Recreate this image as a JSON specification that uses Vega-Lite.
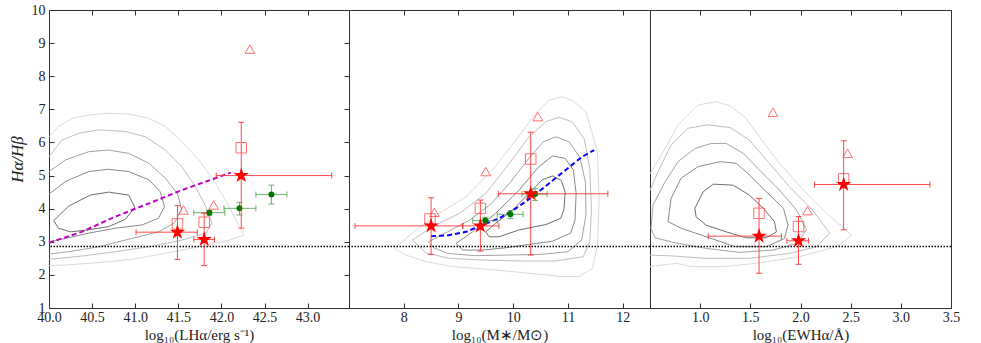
{
"$schema": "https://vega.github.io/schema/vega-lite/v6.json",
"padding": {"left": 7, "top": 2, "right": 5, "bottom": 0},
"spacing": 0,
"bounds": "flush",
"config": {
 "view": {"stroke": "#303030", "strokeWidth": 1},
 "axis": {"domain": false, "grid": false, "ticks": true, "tickSize": -5, "tickColor": "#303030", "tickWidth": 1, "labelFont": "Liberation Serif", "labelFontSize": 14, "labelColor": "#222222", "labelPadding": 7, "labelFlush": false, "labelOverlap": false, "titleFont": "Liberation Serif", "titleFontSize": 15, "titleFontWeight": "normal", "titleColor": "#222222"}
},
"datasets": {
 "contours": [
  {"p":1,"l":1,"i":0,"x":40.055,"y":3.64},{"p":1,"l":1,"i":1,"x":40.229,"y":4.08},{"p":1,"l":1,"i":2,"x":40.48,"y":4.41},{"p":1,"l":1,"i":3,"x":40.693,"y":4.5},{"p":1,"l":1,"i":4,"x":40.925,"y":4.41},{"p":1,"l":1,"i":5,"x":40.995,"y":4.04},{"p":1,"l":1,"i":6,"x":40.887,"y":3.68},{"p":1,"l":1,"i":7,"x":40.693,"y":3.46},{"p":1,"l":1,"i":8,"x":40.46,"y":3.36},{"p":1,"l":1,"i":9,"x":40.25,"y":3.3},{"p":1,"l":1,"i":10,"x":40.11,"y":3.41},{"p":1,"l":1,"i":11,"x":40.055,"y":3.64},
  {"p":1,"l":2,"i":0,"x":40,"y":4.44},{"p":1,"l":2,"i":1,"x":40.19,"y":4.82},{"p":1,"l":2,"i":2,"x":40.46,"y":5.12},{"p":1,"l":2,"i":3,"x":40.69,"y":5.19},{"p":1,"l":2,"i":4,"x":40.925,"y":5.12},{"p":1,"l":2,"i":5,"x":41.16,"y":4.87},{"p":1,"l":2,"i":6,"x":41.29,"y":4.51},{"p":1,"l":2,"i":7,"x":41.34,"y":4.06},{"p":1,"l":2,"i":8,"x":41.27,"y":3.71},{"p":1,"l":2,"i":9,"x":41.08,"y":3.51},{"p":1,"l":2,"i":10,"x":40.77,"y":3.41},{"p":1,"l":2,"i":11,"x":40.46,"y":3.26},{"p":1,"l":2,"i":12,"x":40.19,"y":3.1},{"p":1,"l":2,"i":13,"x":40,"y":3.0},
  {"p":1,"l":3,"i":0,"x":40,"y":5.12},{"p":1,"l":3,"i":1,"x":40.19,"y":5.47},{"p":1,"l":3,"i":2,"x":40.46,"y":5.72},{"p":1,"l":3,"i":3,"x":40.69,"y":5.77},{"p":1,"l":3,"i":4,"x":40.925,"y":5.67},{"p":1,"l":3,"i":5,"x":41.16,"y":5.37},{"p":1,"l":3,"i":6,"x":41.35,"y":4.92},{"p":1,"l":3,"i":7,"x":41.49,"y":4.46},{"p":1,"l":3,"i":8,"x":41.54,"y":3.96},{"p":1,"l":3,"i":9,"x":41.45,"y":3.56},{"p":1,"l":3,"i":10,"x":41.27,"y":3.3},{"p":1,"l":3,"i":11,"x":40.96,"y":3.1},{"p":1,"l":3,"i":12,"x":40.58,"y":2.85},{"p":1,"l":3,"i":13,"x":40.23,"y":2.7},{"p":1,"l":3,"i":14,"x":40,"y":2.63},
  {"p":1,"l":4,"i":0,"x":40,"y":5.57},{"p":1,"l":4,"i":1,"x":40.15,"y":6.07},{"p":1,"l":4,"i":2,"x":40.35,"y":6.28},{"p":1,"l":4,"i":3,"x":40.58,"y":6.38},{"p":1,"l":4,"i":4,"x":40.89,"y":6.33},{"p":1,"l":4,"i":5,"x":41.12,"y":6.17},{"p":1,"l":4,"i":6,"x":41.35,"y":5.77},{"p":1,"l":4,"i":7,"x":41.54,"y":5.27},{"p":1,"l":4,"i":8,"x":41.7,"y":4.66},{"p":1,"l":4,"i":9,"x":41.82,"y":4.06},{"p":1,"l":4,"i":10,"x":41.89,"y":3.56},{"p":1,"l":4,"i":11,"x":41.82,"y":3.26},{"p":1,"l":4,"i":12,"x":41.54,"y":3.05},{"p":1,"l":4,"i":13,"x":41.16,"y":2.85},{"p":1,"l":4,"i":14,"x":40.77,"y":2.7},{"p":1,"l":4,"i":15,"x":40.38,"y":2.57},{"p":1,"l":4,"i":16,"x":40,"y":2.47},
  {"p":1,"l":5,"i":0,"x":40,"y":6.17},{"p":1,"l":5,"i":1,"x":40.11,"y":6.48},{"p":1,"l":5,"i":2,"x":40.27,"y":6.73},{"p":1,"l":5,"i":3,"x":40.46,"y":6.83},{"p":1,"l":5,"i":4,"x":40.69,"y":6.88},{"p":1,"l":5,"i":5,"x":40.925,"y":6.86},{"p":1,"l":5,"i":6,"x":41.16,"y":6.73},{"p":1,"l":5,"i":7,"x":41.35,"y":6.48},{"p":1,"l":5,"i":8,"x":41.54,"y":6.02},{"p":1,"l":5,"i":9,"x":41.74,"y":5.47},{"p":1,"l":5,"i":10,"x":41.93,"y":4.77},{"p":1,"l":5,"i":11,"x":42.09,"y":4.06},{"p":1,"l":5,"i":12,"x":42.26,"y":3.2},{"p":1,"l":5,"i":13,"x":42.09,"y":3.05},{"p":1,"l":5,"i":14,"x":41.74,"y":2.85},{"p":1,"l":5,"i":15,"x":41.35,"y":2.65},{"p":1,"l":5,"i":16,"x":40.96,"y":2.47},{"p":1,"l":5,"i":17,"x":40.58,"y":2.37},{"p":1,"l":5,"i":18,"x":40.19,"y":2.3},{"p":1,"l":5,"i":19,"x":40,"y":2.28},

  {"p":2,"l":1,"i":0,"x":9.5,"y":3.3},{"p":2,"l":1,"i":1,"x":9.68,"y":3.56},{"p":2,"l":1,"i":2,"x":9.99,"y":3.96},{"p":2,"l":1,"i":3,"x":10.29,"y":4.46},{"p":2,"l":1,"i":4,"x":10.53,"y":4.87},{"p":2,"l":1,"i":5,"x":10.72,"y":4.99},{"p":2,"l":1,"i":6,"x":10.88,"y":4.85},{"p":2,"l":1,"i":7,"x":10.95,"y":4.5},{"p":2,"l":1,"i":8,"x":10.93,"y":4.0},{"p":2,"l":1,"i":9,"x":10.87,"y":3.71},{"p":2,"l":1,"i":10,"x":10.6,"y":3.52},{"p":2,"l":1,"i":11,"x":10.11,"y":3.36},{"p":2,"l":1,"i":12,"x":9.74,"y":3.15},{"p":2,"l":1,"i":13,"x":9.56,"y":3.15},{"p":2,"l":1,"i":14,"x":9.5,"y":3.3},
  {"p":2,"l":2,"i":0,"x":8.955,"y":2.95},{"p":2,"l":2,"i":1,"x":9.26,"y":3.3},{"p":2,"l":2,"i":2,"x":9.68,"y":3.86},{"p":2,"l":2,"i":3,"x":10.11,"y":4.56},{"p":2,"l":2,"i":4,"x":10.47,"y":5.27},{"p":2,"l":2,"i":5,"x":10.72,"y":5.59},{"p":2,"l":2,"i":6,"x":10.95,"y":5.52},{"p":2,"l":2,"i":7,"x":11.1,"y":5.17},{"p":2,"l":2,"i":8,"x":11.15,"y":4.46},{"p":2,"l":2,"i":9,"x":11.13,"y":3.66},{"p":2,"l":2,"i":10,"x":11.05,"y":3.26},{"p":2,"l":2,"i":11,"x":10.72,"y":3.02},{"p":2,"l":2,"i":12,"x":10.29,"y":2.92},{"p":2,"l":2,"i":13,"x":9.87,"y":2.82},{"p":2,"l":2,"i":14,"x":9.44,"y":2.75},{"p":2,"l":2,"i":15,"x":9.08,"y":2.75},{"p":2,"l":2,"i":16,"x":8.955,"y":2.95},
  {"p":2,"l":3,"i":0,"x":8.45,"y":3.0},{"p":2,"l":3,"i":1,"x":8.8,"y":3.3},{"p":2,"l":3,"i":2,"x":9.2,"y":3.65},{"p":2,"l":3,"i":3,"x":9.6,"y":4.15},{"p":2,"l":3,"i":4,"x":9.95,"y":4.8},{"p":2,"l":3,"i":5,"x":10.3,"y":5.55},{"p":2,"l":3,"i":6,"x":10.55,"y":6.02},{"p":2,"l":3,"i":7,"x":10.78,"y":6.17},{"p":2,"l":3,"i":8,"x":11.02,"y":6.02},{"p":2,"l":3,"i":9,"x":11.22,"y":5.55},{"p":2,"l":3,"i":10,"x":11.32,"y":4.8},{"p":2,"l":3,"i":11,"x":11.33,"y":3.8},{"p":2,"l":3,"i":12,"x":11.25,"y":3.05},{"p":2,"l":3,"i":13,"x":11.0,"y":2.7},{"p":2,"l":3,"i":14,"x":10.5,"y":2.62},{"p":2,"l":3,"i":15,"x":9.9,"y":2.6},{"p":2,"l":3,"i":16,"x":9.3,"y":2.58},{"p":2,"l":3,"i":17,"x":8.8,"y":2.65},{"p":2,"l":3,"i":18,"x":8.55,"y":2.82},{"p":2,"l":3,"i":19,"x":8.45,"y":3.0},
  {"p":2,"l":4,"i":0,"x":8.16,"y":3.05},{"p":2,"l":4,"i":1,"x":8.53,"y":3.46},{"p":2,"l":4,"i":2,"x":9.02,"y":3.86},{"p":2,"l":4,"i":3,"x":9.5,"y":4.46},{"p":2,"l":4,"i":4,"x":9.93,"y":5.37},{"p":2,"l":4,"i":5,"x":10.29,"y":6.17},{"p":2,"l":4,"i":6,"x":10.6,"y":6.63},{"p":2,"l":4,"i":7,"x":10.84,"y":6.76},{"p":2,"l":4,"i":8,"x":11.08,"y":6.62},{"p":2,"l":4,"i":9,"x":11.3,"y":6.1},{"p":2,"l":4,"i":10,"x":11.4,"y":5.2},{"p":2,"l":4,"i":11,"x":11.43,"y":4.0},{"p":2,"l":4,"i":12,"x":11.4,"y":3.0},{"p":2,"l":4,"i":13,"x":11.28,"y":2.55},{"p":2,"l":4,"i":14,"x":10.78,"y":2.42},{"p":2,"l":4,"i":15,"x":10.11,"y":2.42},{"p":2,"l":4,"i":16,"x":9.44,"y":2.45},{"p":2,"l":4,"i":17,"x":8.83,"y":2.5},{"p":2,"l":4,"i":18,"x":8.41,"y":2.66},{"p":2,"l":4,"i":19,"x":8.16,"y":3.05},
  {"p":2,"l":5,"i":0,"x":7.83,"y":2.8},{"p":2,"l":5,"i":1,"x":8.23,"y":3.36},{"p":2,"l":5,"i":2,"x":8.65,"y":3.86},{"p":2,"l":5,"i":3,"x":9.14,"y":4.36},{"p":2,"l":5,"i":4,"x":9.62,"y":5.17},{"p":2,"l":5,"i":5,"x":10.05,"y":6.07},{"p":2,"l":5,"i":6,"x":10.41,"y":6.88},{"p":2,"l":5,"i":7,"x":10.66,"y":7.28},{"p":2,"l":5,"i":8,"x":10.9,"y":7.38},{"p":2,"l":5,"i":9,"x":11.1,"y":7.25},{"p":2,"l":5,"i":10,"x":11.33,"y":6.93},{"p":2,"l":5,"i":11,"x":11.54,"y":5.72},{"p":2,"l":5,"i":12,"x":11.57,"y":4.21},{"p":2,"l":5,"i":13,"x":11.54,"y":2.9},{"p":2,"l":5,"i":14,"x":11.45,"y":2.2},{"p":2,"l":5,"i":15,"x":11.2,"y":1.95},{"p":2,"l":5,"i":16,"x":10.9,"y":1.95},{"p":2,"l":5,"i":17,"x":10.11,"y":2.08},{"p":2,"l":5,"i":18,"x":9.44,"y":2.18},{"p":2,"l":5,"i":19,"x":8.89,"y":2.25},{"p":2,"l":5,"i":20,"x":8.41,"y":2.4},{"p":2,"l":5,"i":21,"x":8.04,"y":2.6},{"p":2,"l":5,"i":22,"x":7.83,"y":2.8},

  {"p":3,"l":1,"i":0,"x":0.947,"y":4.01},{"p":3,"l":1,"i":1,"x":1.03,"y":4.51},{"p":3,"l":1,"i":2,"x":1.13,"y":4.74},{"p":3,"l":1,"i":3,"x":1.33,"y":4.71},{"p":3,"l":1,"i":4,"x":1.49,"y":4.41},{"p":3,"l":1,"i":5,"x":1.63,"y":4.01},{"p":3,"l":1,"i":6,"x":1.74,"y":3.61},{"p":3,"l":1,"i":7,"x":1.76,"y":3.3},{"p":3,"l":1,"i":8,"x":1.66,"y":3.12},{"p":3,"l":1,"i":9,"x":1.46,"y":3.12},{"p":3,"l":1,"i":10,"x":1.26,"y":3.3},{"p":3,"l":1,"i":11,"x":1.06,"y":3.5},{"p":3,"l":1,"i":12,"x":0.96,"y":3.75},{"p":3,"l":1,"i":13,"x":0.947,"y":4.01},
  {"p":3,"l":2,"i":0,"x":0.68,"y":3.61},{"p":3,"l":2,"i":1,"x":0.71,"y":4.31},{"p":3,"l":2,"i":2,"x":0.81,"y":4.92},{"p":3,"l":2,"i":3,"x":0.98,"y":5.27},{"p":3,"l":2,"i":4,"x":1.2,"y":5.42},{"p":3,"l":2,"i":5,"x":1.36,"y":5.37},{"p":3,"l":2,"i":6,"x":1.49,"y":5.02},{"p":3,"l":2,"i":7,"x":1.66,"y":4.51},{"p":3,"l":2,"i":8,"x":1.83,"y":4.01},{"p":3,"l":2,"i":9,"x":1.875,"y":3.51},{"p":3,"l":2,"i":10,"x":1.84,"y":3.1},{"p":3,"l":2,"i":11,"x":1.66,"y":2.85},{"p":3,"l":2,"i":12,"x":1.35,"y":2.85},{"p":3,"l":2,"i":13,"x":1.11,"y":3.1},{"p":3,"l":2,"i":14,"x":0.81,"y":3.41},{"p":3,"l":2,"i":15,"x":0.68,"y":3.61},
  {"p":3,"l":3,"i":0,"x":0.51,"y":3.4},{"p":3,"l":3,"i":1,"x":0.53,"y":4.11},{"p":3,"l":3,"i":2,"x":0.65,"y":4.81},{"p":3,"l":3,"i":3,"x":0.78,"y":5.42},{"p":3,"l":3,"i":4,"x":0.95,"y":5.82},{"p":3,"l":3,"i":5,"x":1.11,"y":5.97},{"p":3,"l":3,"i":6,"x":1.26,"y":5.97},{"p":3,"l":3,"i":7,"x":1.43,"y":5.67},{"p":3,"l":3,"i":8,"x":1.59,"y":5.17},{"p":3,"l":3,"i":9,"x":1.79,"y":4.56},{"p":3,"l":3,"i":10,"x":1.96,"y":3.96},{"p":3,"l":3,"i":11,"x":2.06,"y":3.36},{"p":3,"l":3,"i":12,"x":1.96,"y":2.95},{"p":3,"l":3,"i":13,"x":1.73,"y":2.75},{"p":3,"l":3,"i":14,"x":1.39,"y":2.68},{"p":3,"l":3,"i":15,"x":1.06,"y":2.8},{"p":3,"l":3,"i":16,"x":0.75,"y":2.97},{"p":3,"l":3,"i":17,"x":0.55,"y":3.12},{"p":3,"l":3,"i":18,"x":0.51,"y":3.4},
  {"p":3,"l":4,"i":0,"x":0.5,"y":4.55},{"p":3,"l":4,"i":1,"x":0.58,"y":5.12},{"p":3,"l":4,"i":2,"x":0.71,"y":5.92},{"p":3,"l":4,"i":3,"x":0.88,"y":6.43},{"p":3,"l":4,"i":4,"x":1.08,"y":6.53},{"p":3,"l":4,"i":5,"x":1.3,"y":6.45},{"p":3,"l":4,"i":6,"x":1.49,"y":6.07},{"p":3,"l":4,"i":7,"x":1.69,"y":5.37},{"p":3,"l":4,"i":8,"x":1.89,"y":4.66},{"p":3,"l":4,"i":9,"x":2.12,"y":3.96},{"p":3,"l":4,"i":10,"x":2.29,"y":3.26},{"p":3,"l":4,"i":11,"x":2.16,"y":2.85},{"p":3,"l":4,"i":12,"x":1.89,"y":2.65},{"p":3,"l":4,"i":13,"x":1.49,"y":2.5},{"p":3,"l":4,"i":14,"x":1.06,"y":2.5},{"p":3,"l":4,"i":15,"x":0.73,"y":2.57},{"p":3,"l":4,"i":16,"x":0.5,"y":2.6},
  {"p":3,"l":5,"i":0,"x":0.5,"y":5.05},{"p":3,"l":5,"i":1,"x":0.65,"y":5.82},{"p":3,"l":5,"i":2,"x":0.78,"y":6.53},{"p":3,"l":5,"i":3,"x":0.98,"y":7.13},{"p":3,"l":5,"i":4,"x":1.16,"y":7.23},{"p":3,"l":5,"i":5,"x":1.3,"y":7.1},{"p":3,"l":5,"i":6,"x":1.45,"y":6.75},{"p":3,"l":5,"i":7,"x":1.59,"y":6.17},{"p":3,"l":5,"i":8,"x":1.79,"y":5.37},{"p":3,"l":5,"i":9,"x":2.03,"y":4.56},{"p":3,"l":5,"i":10,"x":2.26,"y":3.86},{"p":3,"l":5,"i":11,"x":2.51,"y":3.2},{"p":3,"l":5,"i":12,"x":2.36,"y":2.85},{"p":3,"l":5,"i":13,"x":1.99,"y":2.55},{"p":3,"l":5,"i":14,"x":1.56,"y":2.35},{"p":3,"l":5,"i":15,"x":1.23,"y":2.25},{"p":3,"l":5,"i":16,"x":0.9,"y":2.25},{"p":3,"l":5,"i":17,"x":0.77,"y":2.35},{"p":3,"l":5,"i":18,"x":0.63,"y":2.3},{"p":3,"l":5,"i":19,"x":0.5,"y":2.25}
 ],
 "stars": [
  {"p":1,"x":41.49,"y":3.29,"xlo":41.01,"xhi":41.72,"ylo":2.47,"yhi":4.09},
  {"p":1,"x":41.8,"y":3.07,"xlo":41.68,"xhi":41.92,"ylo":2.28,"yhi":3.86},
  {"p":1,"x":42.23,"y":5.0,"xlo":41.94,"xhi":43.28,"ylo":3.41,"yhi":6.61},
  {"p":2,"x":8.5,"y":3.48,"xlo":7.11,"xhi":9.08,"ylo":2.62,"yhi":4.33},
  {"p":2,"x":9.4,"y":3.48,"xlo":9.08,"xhi":9.74,"ylo":2.72,"yhi":4.26},
  {"p":2,"x":10.32,"y":4.45,"xlo":9.73,"xhi":11.73,"ylo":2.6,"yhi":6.31},
  {"p":3,"x":1.587,"y":3.17,"xlo":1.08,"xhi":1.81,"ylo":2.05,"yhi":4.31},
  {"p":3,"x":1.98,"y":3.03,"xlo":1.865,"xhi":2.08,"ylo":2.32,"yhi":3.76},
  {"p":3,"x":2.43,"y":4.73,"xlo":2.14,"xhi":3.29,"ylo":3.36,"yhi":6.05}
 ],
 "squares": [
  {"p":1,"x":41.49,"y":3.54},{"p":1,"x":41.8,"y":3.59},{"p":1,"x":42.23,"y":5.84},
  {"p":2,"x":8.48,"y":3.69},{"p":2,"x":9.4,"y":4.01},{"p":2,"x":10.32,"y":5.5},
  {"p":3,"x":1.587,"y":3.86},{"p":3,"x":1.98,"y":3.46},{"p":3,"x":2.43,"y":4.9}
 ],
 "triangles": [
  {"p":1,"x":41.56,"y":3.96},{"p":1,"x":41.91,"y":4.11},{"p":1,"x":42.33,"y":8.82},
  {"p":2,"x":8.56,"y":3.89},{"p":2,"x":9.5,"y":5.12},{"p":2,"x":10.45,"y":6.78},
  {"p":3,"x":1.726,"y":6.91},{"p":3,"x":2.07,"y":3.94},{"p":3,"x":2.47,"y":5.67}
 ],
 "green": [
  {"p":1,"x":41.86,"y":3.88,"xlo":41.68,"xhi":42.04,"ylo":3.8,"yhi":3.95},
  {"p":1,"x":42.21,"y":4.01,"xlo":42.03,"xhi":42.4,"ylo":3.81,"yhi":4.19},
  {"p":1,"x":42.58,"y":4.43,"xlo":42.4,"xhi":42.76,"ylo":4.14,"yhi":4.71},
  {"p":2,"x":9.49,"y":3.64,"xlo":9.26,"xhi":9.71,"ylo":3.55,"yhi":3.74},
  {"p":2,"x":9.95,"y":3.83,"xlo":9.71,"xhi":10.18,"ylo":3.7,"yhi":3.94},
  {"p":2,"x":10.4,"y":4.44,"xlo":10.16,"xhi":10.62,"ylo":4.25,"yhi":4.6}
 ],
 "fits": [
  {"p":1,"i":0,"x":40.0,"y":2.97},{"p":1,"i":1,"x":40.38,"y":3.3},{"p":1,"i":2,"x":40.77,"y":3.76},{"p":1,"i":3,"x":41.16,"y":4.16},{"p":1,"i":4,"x":41.54,"y":4.56},{"p":1,"i":5,"x":41.93,"y":4.92},{"p":1,"i":6,"x":42.11,"y":5.09},
  {"p":2,"i":0,"x":8.5,"y":3.17},{"p":2,"i":1,"x":8.83,"y":3.2},{"p":2,"i":2,"x":9.14,"y":3.3},{"p":2,"i":3,"x":9.44,"y":3.51},{"p":2,"i":4,"x":9.745,"y":3.71},{"p":2,"i":5,"x":10.05,"y":4.01},{"p":2,"i":6,"x":10.35,"y":4.36},{"p":2,"i":7,"x":10.66,"y":4.77},{"p":2,"i":8,"x":10.96,"y":5.17},{"p":2,"i":9,"x":11.26,"y":5.57},{"p":2,"i":10,"x":11.48,"y":5.77}
 ],
 "base": [{"y": 2.86}]
},
"hconcat": [
 {
  "width": 300, "height": 298,
  "layer": [
   {"data": {"name": "contours"}, "transform": [{"filter": "datum.p == 1"}],
    "mark": {"type": "line", "clip": true, "strokeWidth": 1},
    "encoding": {
     "x": {"field": "x", "type": "quantitative", "scale": {"domain": [40, 43.48], "nice": false, "zero": false}, "axis": {"orient": "top", "labels": false, "title": null, "values": [40, 40.5, 41, 41.5, 42, 42.5, 43]}},
     "y": {"field": "y", "type": "quantitative", "scale": {"domain": [1, 10], "nice": false, "zero": false}, "axis": {"orient": "right", "labels": false, "title": null, "values": [1,2,3,4,5,6,7,8,9,10]}},
     "order": {"field": "i", "type": "quantitative"},
     "color": {"field": "l", "type": "ordinal", "scale": {"domain": [1,2,3,4,5], "range": ["#6e6e6e", "#8a8a8a", "#a3a3a3", "#bebebe", "#dadada"]}, "legend": null}
    }},
   {"data": {"name": "fits"}, "transform": [{"filter": "datum.p == 1"}],
    "mark": {"type": "line", "color": "#bf00bf", "strokeWidth": 2, "strokeDash": [5, 3]},
    "encoding": {"x": {"field": "x", "type": "quantitative", "axis": null}, "y": {"field": "y", "type": "quantitative", "axis": null}, "order": {"field": "i", "type": "quantitative"}}},
   {"data": {"name": "base"}, "mark": {"type": "rule", "color": "#000000", "strokeWidth": 1.5, "strokeDash": [1.5, 1.5]},
    "encoding": {"y": {"field": "y", "type": "quantitative", "axis": null}}},
   {"data": {"name": "green"}, "transform": [{"filter": "datum.p == 1"}],
    "mark": {"type": "errorbar", "ticks": {"size": 6}, "color": "#3c9a3c", "opacity": 0.75, "thickness": 1},
    "encoding": {"x": {"field": "xlo", "type": "quantitative", "axis": null}, "x2": {"field": "xhi"}, "y": {"field": "y", "type": "quantitative", "axis": null}}},
   {"data": {"name": "green"}, "transform": [{"filter": "datum.p == 1"}],
    "mark": {"type": "errorbar", "ticks": {"size": 6}, "color": "#3c9a3c", "opacity": 0.75, "thickness": 1},
    "encoding": {"y": {"field": "ylo", "type": "quantitative", "axis": null}, "y2": {"field": "yhi"}, "x": {"field": "x", "type": "quantitative", "axis": null}}},
   {"data": {"name": "green"}, "transform": [{"filter": "datum.p == 1"}],
    "mark": {"type": "point", "shape": "circle", "filled": true, "size": 36, "color": "#007800", "opacity": 1},
    "encoding": {"x": {"field": "x", "type": "quantitative", "axis": null}, "y": {"field": "y", "type": "quantitative", "axis": null}}},
   {"data": {"name": "stars"}, "transform": [{"filter": "datum.p == 1"}],
    "mark": {"type": "errorbar", "ticks": {"size": 6}, "color": "#ff2a2a", "opacity": 0.85, "thickness": 1},
    "encoding": {"x": {"field": "xlo", "type": "quantitative", "axis": null}, "x2": {"field": "xhi"}, "y": {"field": "y", "type": "quantitative", "axis": null}}},
   {"data": {"name": "stars"}, "transform": [{"filter": "datum.p == 1"}],
    "mark": {"type": "errorbar", "ticks": {"size": 6}, "color": "#ff2a2a", "opacity": 0.85, "thickness": 1},
    "encoding": {"y": {"field": "ylo", "type": "quantitative", "axis": null}, "y2": {"field": "yhi"}, "x": {"field": "x", "type": "quantitative", "axis": null}}},
   {"data": {"name": "squares"}, "transform": [{"filter": "datum.p == 1"}],
    "mark": {"type": "point", "shape": "square", "filled": false, "size": 110, "color": "#ff4d4d", "strokeWidth": 1, "opacity": 0.8},
    "encoding": {"x": {"field": "x", "type": "quantitative", "axis": null}, "y": {"field": "y", "type": "quantitative", "axis": null}}},
   {"data": {"name": "triangles"}, "transform": [{"filter": "datum.p == 1"}],
    "mark": {"type": "point", "shape": "triangle-up", "filled": false, "size": 95, "color": "#ff4d4d", "strokeWidth": 1, "opacity": 0.8},
    "encoding": {"x": {"field": "x", "type": "quantitative", "axis": null}, "y": {"field": "y", "type": "quantitative", "axis": null}}},
   {"data": {"name": "stars"}, "transform": [{"filter": "datum.p == 1"}],
    "mark": {"type": "point", "shape": "M0,-1L0.2245,-0.309L0.9511,-0.309L0.3633,0.118L0.5878,0.809L0,0.382L-0.5878,0.809L-0.3633,0.118L-0.9511,-0.309L-0.2245,-0.309Z", "filled": true, "size": 260, "color": "#ff0000", "opacity": 1},
    "encoding": {
     "x": {"field": "x", "type": "quantitative", "scale": {"domain": [40, 43.48], "nice": false, "zero": false}, "axis": {"orient": "bottom", "title": "log₁₀(LHα/erg s⁻¹)", "values": [40, 40.5, 41, 41.5, 42, 42.5, 43], "format": ".1f", "titlePadding": 3}},
     "y": {"field": "y", "type": "quantitative", "scale": {"domain": [1, 10], "nice": false, "zero": false}, "axis": {"orient": "left", "title": "Hα/Hβ", "titleFontStyle": "italic", "titleFontSize": 17, "titlePadding": 5, "labelPadding": 9, "values": [1,2,3,4,5,6,7,8,9,10], "format": "d"}}
    }}
  ]
 },
 {
  "width": 301, "height": 298,
  "layer": [
   {"data": {"name": "contours"}, "transform": [{"filter": "datum.p == 2"}],
    "mark": {"type": "line", "clip": true, "strokeWidth": 1},
    "encoding": {
     "x": {"field": "x", "type": "quantitative", "scale": {"domain": [7, 12.5], "nice": false, "zero": false}, "axis": {"orient": "top", "labels": false, "title": null, "values": [8, 9, 10, 11, 12]}},
     "y": {"field": "y", "type": "quantitative", "scale": {"domain": [1, 10], "nice": false, "zero": false}, "axis": {"orient": "right", "labels": false, "title": null, "values": [1,2,3,4,5,6,7,8,9,10]}},
     "order": {"field": "i", "type": "quantitative"},
     "color": {"field": "l", "type": "ordinal", "scale": {"domain": [1,2,3,4,5], "range": ["#6e6e6e", "#8a8a8a", "#a3a3a3", "#bebebe", "#dadada"]}, "legend": null}
    }},
   {"data": {"name": "fits"}, "transform": [{"filter": "datum.p == 2"}],
    "mark": {"type": "line", "color": "#0000ff", "strokeWidth": 2, "strokeDash": [5, 3]},
    "encoding": {"x": {"field": "x", "type": "quantitative", "axis": null}, "y": {"field": "y", "type": "quantitative", "axis": null}, "order": {"field": "i", "type": "quantitative"}}},
   {"data": {"name": "base"}, "mark": {"type": "rule", "color": "#000000", "strokeWidth": 1.5, "strokeDash": [1.5, 1.5]},
    "encoding": {"y": {"field": "y", "type": "quantitative", "axis": null}}},
   {"data": {"name": "green"}, "transform": [{"filter": "datum.p == 2"}],
    "mark": {"type": "errorbar", "ticks": {"size": 6}, "color": "#3c9a3c", "opacity": 0.75, "thickness": 1},
    "encoding": {"x": {"field": "xlo", "type": "quantitative", "axis": null}, "x2": {"field": "xhi"}, "y": {"field": "y", "type": "quantitative", "axis": null}}},
   {"data": {"name": "green"}, "transform": [{"filter": "datum.p == 2"}],
    "mark": {"type": "errorbar", "ticks": {"size": 6}, "color": "#3c9a3c", "opacity": 0.75, "thickness": 1},
    "encoding": {"y": {"field": "ylo", "type": "quantitative", "axis": null}, "y2": {"field": "yhi"}, "x": {"field": "x", "type": "quantitative", "axis": null}}},
   {"data": {"name": "green"}, "transform": [{"filter": "datum.p == 2"}],
    "mark": {"type": "point", "shape": "circle", "filled": true, "size": 36, "color": "#007800", "opacity": 1},
    "encoding": {"x": {"field": "x", "type": "quantitative", "axis": null}, "y": {"field": "y", "type": "quantitative", "axis": null}}},
   {"data": {"name": "stars"}, "transform": [{"filter": "datum.p == 2"}],
    "mark": {"type": "errorbar", "ticks": {"size": 6}, "color": "#ff2a2a", "opacity": 0.85, "thickness": 1},
    "encoding": {"x": {"field": "xlo", "type": "quantitative", "axis": null}, "x2": {"field": "xhi"}, "y": {"field": "y", "type": "quantitative", "axis": null}}},
   {"data": {"name": "stars"}, "transform": [{"filter": "datum.p == 2"}],
    "mark": {"type": "errorbar", "ticks": {"size": 6}, "color": "#ff2a2a", "opacity": 0.85, "thickness": 1},
    "encoding": {"y": {"field": "ylo", "type": "quantitative", "axis": null}, "y2": {"field": "yhi"}, "x": {"field": "x", "type": "quantitative", "axis": null}}},
   {"data": {"name": "squares"}, "transform": [{"filter": "datum.p == 2"}],
    "mark": {"type": "point", "shape": "square", "filled": false, "size": 110, "color": "#ff4d4d", "strokeWidth": 1, "opacity": 0.8},
    "encoding": {"x": {"field": "x", "type": "quantitative", "axis": null}, "y": {"field": "y", "type": "quantitative", "axis": null}}},
   {"data": {"name": "triangles"}, "transform": [{"filter": "datum.p == 2"}],
    "mark": {"type": "point", "shape": "triangle-up", "filled": false, "size": 95, "color": "#ff4d4d", "strokeWidth": 1, "opacity": 0.8},
    "encoding": {"x": {"field": "x", "type": "quantitative", "axis": null}, "y": {"field": "y", "type": "quantitative", "axis": null}}},
   {"data": {"name": "stars"}, "transform": [{"filter": "datum.p == 2"}],
    "mark": {"type": "point", "shape": "M0,-1L0.2245,-0.309L0.9511,-0.309L0.3633,0.118L0.5878,0.809L0,0.382L-0.5878,0.809L-0.3633,0.118L-0.9511,-0.309L-0.2245,-0.309Z", "filled": true, "size": 260, "color": "#ff0000", "opacity": 1},
    "encoding": {
     "x": {"field": "x", "type": "quantitative", "scale": {"domain": [7, 12.5], "nice": false, "zero": false}, "axis": {"orient": "bottom", "title": "log₁₀(M∗/M⊙)", "values": [8, 9, 10, 11, 12], "format": "d", "titlePadding": 3}},
     "y": {"field": "y", "type": "quantitative", "scale": {"domain": [1, 10], "nice": false, "zero": false}, "axis": null}
    }}
  ]
 },
 {
  "width": 301, "height": 298,
  "layer": [
   {"data": {"name": "contours"}, "transform": [{"filter": "datum.p == 3"}],
    "mark": {"type": "line", "clip": true, "strokeWidth": 1},
    "encoding": {
     "x": {"field": "x", "type": "quantitative", "scale": {"domain": [0.5, 3.5], "nice": false, "zero": false}, "axis": {"orient": "top", "labels": false, "title": null, "values": [1, 1.5, 2, 2.5, 3, 3.5]}},
     "y": {"field": "y", "type": "quantitative", "scale": {"domain": [1, 10], "nice": false, "zero": false}, "axis": {"orient": "right", "labels": false, "title": null, "values": [1,2,3,4,5,6,7,8,9,10]}},
     "order": {"field": "i", "type": "quantitative"},
     "color": {"field": "l", "type": "ordinal", "scale": {"domain": [1,2,3,4,5], "range": ["#6e6e6e", "#8a8a8a", "#a3a3a3", "#bebebe", "#dadada"]}, "legend": null}
    }},
   {"data": {"name": "base"}, "mark": {"type": "rule", "color": "#000000", "strokeWidth": 1.5, "strokeDash": [1.5, 1.5]},
    "encoding": {"y": {"field": "y", "type": "quantitative", "axis": null}}},
   {"data": {"name": "stars"}, "transform": [{"filter": "datum.p == 3"}],
    "mark": {"type": "errorbar", "ticks": {"size": 6}, "color": "#ff2a2a", "opacity": 0.85, "thickness": 1},
    "encoding": {"x": {"field": "xlo", "type": "quantitative", "axis": null}, "x2": {"field": "xhi"}, "y": {"field": "y", "type": "quantitative", "axis": null}}},
   {"data": {"name": "stars"}, "transform": [{"filter": "datum.p == 3"}],
    "mark": {"type": "errorbar", "ticks": {"size": 6}, "color": "#ff2a2a", "opacity": 0.85, "thickness": 1},
    "encoding": {"y": {"field": "ylo", "type": "quantitative", "axis": null}, "y2": {"field": "yhi"}, "x": {"field": "x", "type": "quantitative", "axis": null}}},
   {"data": {"name": "squares"}, "transform": [{"filter": "datum.p == 3"}],
    "mark": {"type": "point", "shape": "square", "filled": false, "size": 110, "color": "#ff4d4d", "strokeWidth": 1, "opacity": 0.8},
    "encoding": {"x": {"field": "x", "type": "quantitative", "axis": null}, "y": {"field": "y", "type": "quantitative", "axis": null}}},
   {"data": {"name": "triangles"}, "transform": [{"filter": "datum.p == 3"}],
    "mark": {"type": "point", "shape": "triangle-up", "filled": false, "size": 95, "color": "#ff4d4d", "strokeWidth": 1, "opacity": 0.8},
    "encoding": {"x": {"field": "x", "type": "quantitative", "axis": null}, "y": {"field": "y", "type": "quantitative", "axis": null}}},
   {"data": {"name": "stars"}, "transform": [{"filter": "datum.p == 3"}],
    "mark": {"type": "point", "shape": "M0,-1L0.2245,-0.309L0.9511,-0.309L0.3633,0.118L0.5878,0.809L0,0.382L-0.5878,0.809L-0.3633,0.118L-0.9511,-0.309L-0.2245,-0.309Z", "filled": true, "size": 260, "color": "#ff0000", "opacity": 1},
    "encoding": {
     "x": {"field": "x", "type": "quantitative", "scale": {"domain": [0.5, 3.5], "nice": false, "zero": false}, "axis": {"orient": "bottom", "title": "log₁₀(EWHα/Å)", "values": [1, 1.5, 2, 2.5, 3, 3.5], "format": ".1f", "titlePadding": 3}},
     "y": {"field": "y", "type": "quantitative", "scale": {"domain": [1, 10], "nice": false, "zero": false}, "axis": null}
    }}
  ]
 }
]
}
